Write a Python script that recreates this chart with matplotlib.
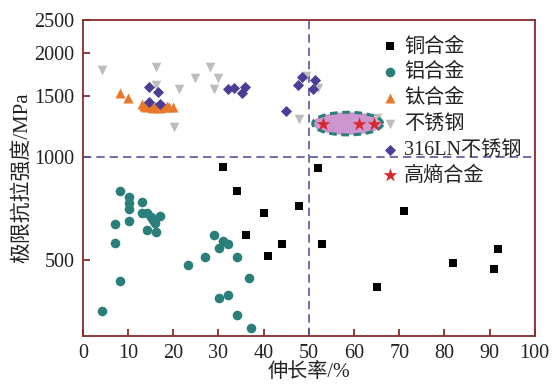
import numpy as np
import matplotlib.pyplot as plt
from matplotlib.ticker import FixedLocator, NullLocator, FixedFormatter

plt.rcParams['font.family'] = ['Liberation Serif', 'Noto Sans CJK SC']

# 铜合金
cu_x = [31, 34.2, 40.1, 47.9, 36.1, 44.0, 41.0, 52.1, 53.0, 71.0, 81.9, 65.0, 90.9, 91.9]
cu_y = [935, 796, 685, 717, 589, 557, 514, 926, 555, 694, 489, 417, 469, 539]

# 铝合金
al_x = [4.2, 7.2, 7.2, 8.2, 8.2, 10.2, 10.2, 10.2, 10.2, 13.1, 13.1, 14.1, 15.0, 15.4,
        16.0, 17.1, 14.2, 16.2, 23.2, 27.1, 29.1, 30.1, 31.1, 32.1, 34.1, 36.8, 30.1,
        32.1, 34.1, 37.1]
al_y = [356, 637, 559, 791, 435, 763, 733, 702, 647, 735, 686, 686, 667, 652,
        641, 670, 610, 602, 484, 509, 589, 543, 569, 556, 509, 442, 386,
        395, 346, 316]

# 钛合金
ti_x = [8.1, 10.0, 13, 13.5, 14, 14.5, 15, 15.5, 16, 16.5, 17, 17.5, 18, 18.5, 19, 20]
ti_y = [1532, 1480, 1420, 1400, 1390, 1410, 1395, 1385, 1400, 1390, 1385, 1400, 1395, 1405, 1390, 1395]

# 不锈钢
ss_x = [4.2, 16.2, 16.2, 21.2, 24.9, 28.2, 30.0, 29.1, 20.1, 47.9, 52.1, 49.3, 65.0]
ss_y = [1787, 1827, 1610, 1571, 1690, 1827, 1692, 1571, 1218, 1289, 1584, 1710, 1292]

# 316LN不锈钢
ln_x = [14.6, 16.7, 14.6, 17.1, 32.1, 33.4, 35.1, 35.9, 45.0, 48.4, 47.6, 51.4, 50.9]
ln_y = [1589, 1540, 1438, 1422, 1568, 1579, 1527, 1591, 1355, 1702, 1610, 1672, 1576]

# 高熵合金
hea_x = [53.1, 61.1, 64.5]
hea_y = [1245, 1245, 1240]

fig = plt.figure(figsize=(5.53, 3.89), dpi=100)
ax = fig.add_axes([0.150, 0.136, 0.817, 0.813])
ax.set_yscale('log')
ax.set_xlim(0, 100)
ax.set_ylim(300, 2500)

# 高熵合金区域
t = np.linspace(0, 2 * np.pi, 200)
ex = 58.6 + 7.75 * np.cos(t)
ey = 10 ** (np.log10(1247) + 0.033 * np.sin(t))
ax.fill(ex, ey, facecolor='#C98BC9', edgecolor='none', alpha=0.9, zorder=1)
ax.plot(ex, ey, color='#2A7F7A', lw=2.2, ls=(0, (2.5, 1.5)), zorder=4)

ax.axvline(50, color='#5555A5', lw=1.2, ls=(0, (5, 3)), zorder=2)
ax.axhline(1000, color='#5555A5', lw=1.2, ls=(0, (5, 3)), zorder=2)

ax.scatter(cu_x, cu_y, marker='s', s=38, color='black', lw=0, label='铜合金', zorder=3)
ax.scatter(al_x, al_y, marker='o', s=48, color='#2A7F7A', lw=0, label='铝合金', zorder=3)
ax.scatter(ti_x, ti_y, marker='^', s=52, color='#E8782A', lw=0, label='钛合金', zorder=3)
ax.scatter(ss_x, ss_y, marker='v', s=48, color='#BDBDBD', lw=0, label='不锈钢', zorder=2)
ax.scatter(ln_x, ln_y, marker='D', s=32, color='#4B3F95', lw=0, label='316LN不锈钢', zorder=3)
ax.scatter(hea_x, hea_y, marker='*', s=110, color='#D9262C', lw=0, label='高熵合金', zorder=5)

yt = [500, 1000, 1500, 2000, 2500]
ax.yaxis.set_major_locator(FixedLocator(yt))
ax.yaxis.set_major_formatter(FixedFormatter([str(v) for v in yt]))
ax.yaxis.set_minor_locator(NullLocator())
ax.set_xticks(range(0, 101, 10))

spine_c = '#8B2A2A'
for s in ax.spines.values():
    s.set_color(spine_c)
    s.set_linewidth(1.3)
ax.tick_params(direction='in', length=5, width=1.3, color=spine_c,
               labelsize=14.5, labelcolor='#222222', pad=6)

ax.set_xlabel('伸长率/%', fontsize=14.5, color='#222222', labelpad=0)
ax.set_ylabel('极限抗拉强度/MPa', fontsize=15, color='#222222', labelpad=2)

leg = ax.legend(loc='upper left', bbox_to_anchor=(0.635, 0.97), frameon=False,
                fontsize=14.5, handletextpad=0.1, labelspacing=0.33, handlelength=1.2,
                borderaxespad=0, labelcolor='#222222')

fig.savefig('out.png', dpi=100)
